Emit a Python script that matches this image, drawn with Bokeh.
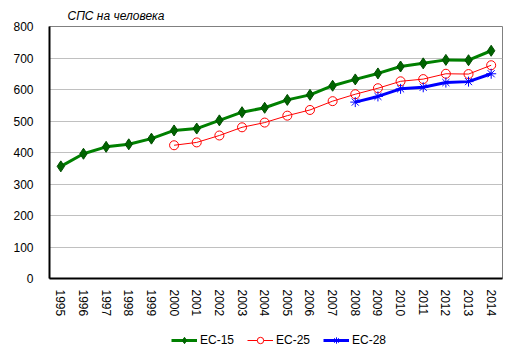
from bokeh.plotting import figure
from bokeh.layouts import column
from bokeh.models import Legend, LegendItem, FactorRange, Range1d, SingleIntervalTicker
from bokeh.embed import file_html
from bokeh.resources import INLINE

years = [str(y) for y in range(1995, 2015)]
eu15 = [356, 396, 418, 426, 444, 470, 476, 502, 528, 542, 567, 583, 612, 632, 651, 673, 683, 694, 693, 723]
years25 = [str(y) for y in range(2000, 2015)]
eu25 = [423, 432, 454, 480, 495, 517, 535, 563, 585, 604, 626, 633, 650, 649, 677]
years28 = [str(y) for y in range(2008, 2015)]
eu28 = [560, 578, 602, 607, 622, 625, 650]
names = ["ЕС-15", "ЕС-25", "ЕС-28"]
title_text = "СПС на человека"

FONT = "Liberation Sans"
NAN = float("nan")

p = figure(x_range=FactorRange(*years), y_range=Range1d(0, 800),
           width=516, height=325,
           min_border_left=49, min_border_right=14, min_border_top=26, min_border_bottom=47,
           output_backend="svg", toolbar_location=None, title=title_text)

p.title.text_font = FONT
p.title.text_font_style = "italic"
p.title.text_font_size = "12px"
p.title.text_color = "#000000"
p.title.align = "left"
p.title.offset = 18
p.title.standoff = 8

p.outline_line_color = "#808080"
p.outline_line_width = 1
p.background_fill_color = "white"
p.border_fill_color = "white"

p.xgrid.grid_line_color = None
p.ygrid.grid_line_color = "#c0c0c0"
p.ygrid.grid_line_width = 1
p.yaxis.ticker = SingleIntervalTicker(interval=100)

for ax in (p.xaxis, p.yaxis):
    ax.axis_line_color = "black"
    ax.axis_line_width = 2
    ax.major_tick_line_color = None
    ax.minor_tick_line_color = None
    ax.major_label_text_font = FONT
    ax.major_label_text_font_size = "12px"
    ax.major_label_text_color = "#000000"
p.xaxis.major_label_orientation = "vertical"
p.xaxis.major_label_standoff = 5
p.yaxis.major_label_standoff = 10

p.line(years, eu15, line_color="#008000", line_width=3)
p.scatter(years, eu15, marker="diamond", size=11, fill_color="#006400", line_color="#004d00")
p.line(years25, eu25, line_color="#ff0000", line_width=1)
p.scatter(years25, eu25, marker="circle", size=9, fill_color="white", fill_alpha=0, line_color="#ff0000", line_width=1)
p.line(years28, eu28, line_color="#0000ff", line_width=3)
p.scatter(years28, eu28, marker="asterisk", size=10, line_color="#0000ff", line_width=1)

# separate strip for the legend, below the chart
lf = figure(width=516, height=31, x_range=Range1d(0, 1), y_range=Range1d(0, 1),
            min_border=0, min_border_left=0, min_border_right=0, min_border_top=0, min_border_bottom=0,
            x_axis_type=None, y_axis_type=None, output_backend="svg", toolbar_location=None)
lf.outline_line_color = None
lf.xgrid.grid_line_color = None
lf.ygrid.grid_line_color = None
lf.background_fill_color = "white"
lf.border_fill_color = "white"

lg1 = lf.line([0], [NAN], line_color="#008000", line_width=3)
lm1 = lf.scatter([0], [NAN], marker="diamond", size=5, fill_color="#006400", line_color="#006400")
lg2 = lf.line([0], [NAN], line_color="#ff0000", line_width=1)
lm2 = lf.scatter([0], [NAN], marker="circle", size=5, fill_color="white", line_color="#ff0000")
lg3 = lf.line([0], [NAN], line_color="#0000ff", line_width=3)
lm3 = lf.scatter([0], [NAN], marker="asterisk", size=6, line_color="#0000ff")

legend = Legend(items=[LegendItem(label=names[0], renderers=[lg1, lm1]),
                       LegendItem(label=names[1], renderers=[lg2, lm2]),
                       LegendItem(label=names[2], renderers=[lg3, lm3])],
                orientation="horizontal", location=(122, 8),
                glyph_width=26, glyph_height=16, label_height=16, label_standoff=3, spacing=13,
                padding=0, margin=0, border_line_color=None, background_fill_alpha=0,
                label_text_font=FONT, label_text_font_size="12px", label_text_color="#000000")
lf.add_layout(legend, "center")

open("out.html", "w").write(file_html(column(p, lf, spacing=0), INLINE))
